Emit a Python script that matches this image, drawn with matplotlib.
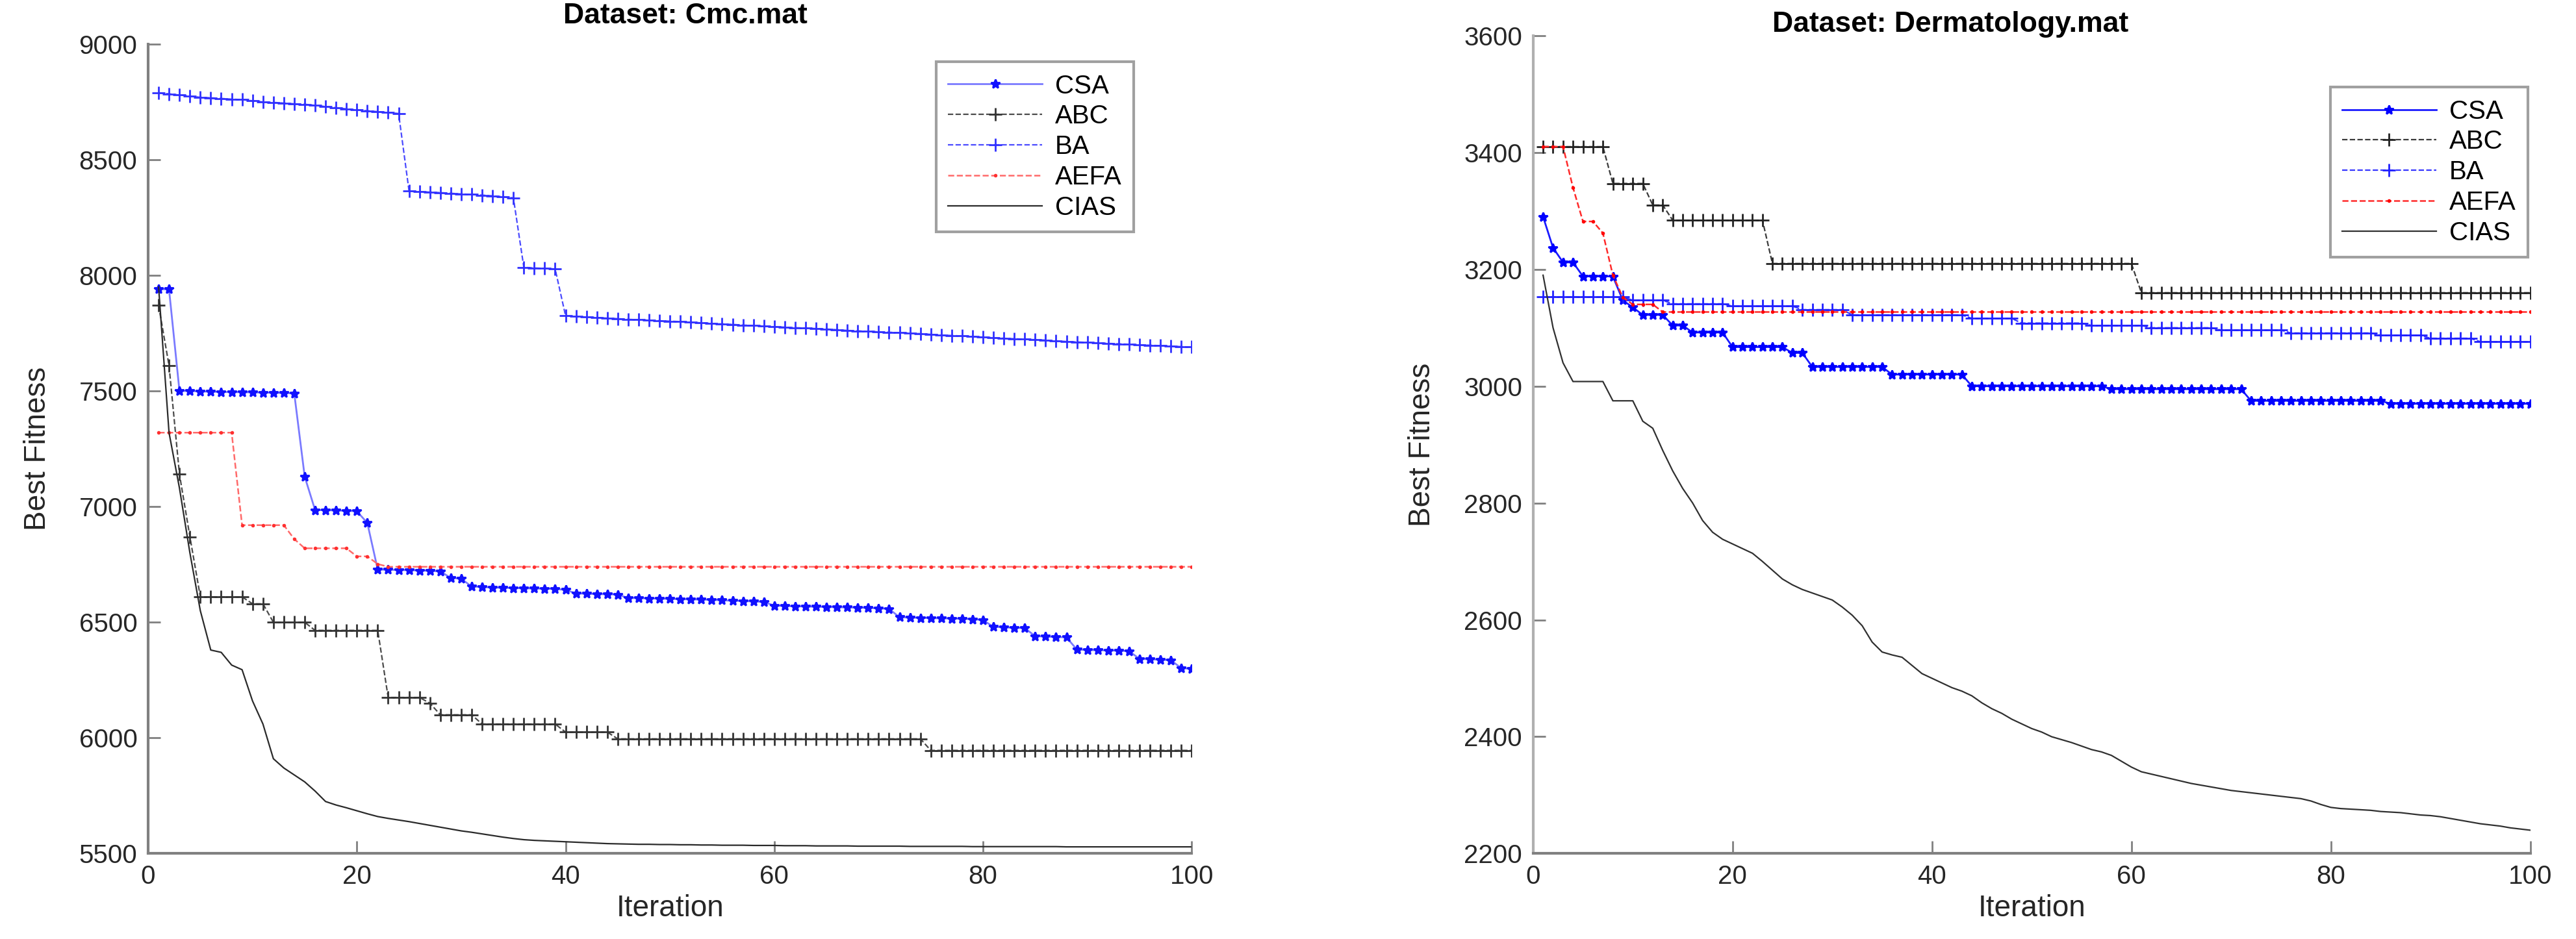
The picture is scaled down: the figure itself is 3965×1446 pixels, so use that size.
import matplotlib
matplotlib.use("Agg")
import matplotlib.pyplot as plt
import numpy as np

plt.rcParams["font.family"] = ["Liberation Sans Narrow", "Liberation Sans", "DejaVu Sans"]

iters = np.arange(1, 101)

# ---- Dataset: Cmc.mat ----------------------------------------------------
cmc_csa = [7940, 7940,
           7500, 7500, 7498, 7497, 7496, 7495, 7495, 7494, 7493, 7492, 7491, 7490,
           7130,
           6985, 6985, 6983, 6982, 6980,
           6930,
           6728, 6727, 6726, 6725, 6724, 6722, 6720,
           6692, 6688,
           6655, 6652, 6650, 6649, 6648, 6647, 6646, 6645, 6644, 6640,
           6625, 6623, 6622, 6621, 6620,
           6605, 6604, 6603, 6602, 6601, 6600, 6599, 6598, 6597, 6595, 6593, 6592, 6590, 6588,
           6572, 6570, 6569, 6568, 6567, 6566, 6565, 6564, 6563, 6562, 6560, 6558,
           6522, 6520, 6519, 6518, 6517, 6516, 6515, 6513, 6510,
           6480, 6478, 6476, 6475,
           6440, 6438, 6436, 6435,
           6382, 6380, 6379, 6378, 6377, 6375,
           6342, 6340, 6338, 6336,
           6302, 6298]
cmc_abc_levels = [7870, 7610, 7140, 6870, 6610, 6580, 6500, 6465, 6175, 6150, 6100, 6060, 6025, 5996, 5946]
cmc_abc_counts = [1, 1, 1, 1, 5, 2, 4, 7, 4, 1, 4, 8, 5, 30, 26]
cmc_ba = [8790, 8785, 8780, 8775, 8770, 8768, 8765, 8762, 8760, 8755, 8750, 8748,
          8745, 8742, 8740, 8735, 8730, 8725, 8720, 8715, 8712, 8708, 8704, 8700,
          8365, 8362, 8360, 8358, 8355, 8352, 8350, 8347, 8344, 8340, 8335,
          8035, 8032, 8030, 8028,
          7825, 7822, 7820, 7818, 7815, 7813, 7810, 7808, 7806, 7804,
          7802, 7800, 7797, 7795, 7792, 7790, 7788, 7785, 7783, 7780,
          7778, 7776, 7774, 7772, 7770, 7768, 7765, 7762, 7760, 7758,
          7756, 7754, 7752, 7750, 7748, 7745, 7742, 7740, 7738, 7735,
          7733, 7730, 7728, 7726, 7724, 7722, 7720, 7717, 7714, 7712,
          7710, 7708, 7706, 7704, 7702, 7700, 7698, 7696, 7694, 7692,
          7690]
cmc_aefa_levels = [7320, 6920, 6860, 6820, 6785, 6752, 6740]
cmc_aefa_counts = [8, 5, 1, 5, 2, 1, 78]
cmc_cias = [7950, 7320, 7080, 6800, 6550, 6380, 6370, 6315, 6295, 6160,
            6060, 5910, 5870, 5840, 5810, 5770, 5725, 5710, 5698, 5685,
            5672, 5660, 5652, 5645, 5638, 5630, 5622, 5614, 5606, 5598,
            5592, 5585, 5578, 5571, 5565, 5560, 5557, 5555, 5553, 5551,
            5549, 5547, 5545, 5543, 5542, 5541, 5540, 5540, 5539, 5539,
            5538, 5538, 5537, 5537, 5536, 5536, 5536, 5535, 5535, 5535,
            5534, 5534, 5534, 5533, 5533, 5533, 5533, 5532, 5532, 5532,
            5532, 5532, 5531, 5531, 5531, 5531, 5531, 5531, 5530, 5530,
            5530, 5530, 5530, 5530, 5530, 5530, 5530, 5529, 5529, 5529,
            5529, 5529, 5529, 5529, 5529, 5529, 5529, 5529, 5529, 5529]

# ---- Dataset: Dermatology.mat --------------------------------------------
derm_csa_levels = [3290, 3237, 3212, 3188, 3147, 3135, 3122, 3104, 3092, 3067,
                   3057, 3033, 3020, 3000, 2995, 2975, 2970]
derm_csa_counts = [1, 1, 2, 4, 1, 1, 3, 2, 4, 6, 2, 8, 8, 14, 14, 14, 15]
derm_abc_levels = [3410, 3347, 3310, 3284, 3210, 3160]
derm_abc_counts = [7, 4, 2, 10, 37, 40]
derm_ba_levels = [3153, 3147, 3141, 3137, 3131, 3122, 3116, 3108, 3104, 3100,
                  3096, 3091, 3087, 3082, 3076]
derm_ba_counts = [9, 4, 6, 7, 5, 12, 5, 7, 6, 7, 7, 9, 5, 5, 6]
derm_aefa_levels = [3410, 3340, 3282, 3262, 3190, 3152, 3140, 3127]
derm_aefa_counts = [3, 1, 2, 1, 1, 1, 3, 88]
derm_cias = [3190, 3100, 3040, 3008, 3008, 3008, 3008, 2975, 2975, 2975,
             2940, 2928, 2890, 2855, 2825, 2800, 2770, 2750, 2738, 2730,
             2722, 2714, 2700, 2685, 2670, 2660, 2652, 2646, 2640, 2634,
             2622, 2608, 2590, 2562, 2545, 2540, 2536, 2522, 2508, 2500,
             2492, 2484, 2478, 2470, 2458, 2448, 2440, 2430, 2422, 2414,
             2408, 2400, 2395, 2390, 2384, 2378, 2374, 2368, 2358, 2348,
             2340, 2336, 2332, 2328, 2324, 2320, 2317, 2314, 2311, 2308,
             2306, 2304, 2302, 2300, 2298, 2296, 2294, 2290, 2284, 2279,
             2277, 2276, 2275, 2274, 2272, 2271, 2270, 2268, 2266, 2265,
             2263, 2260, 2257, 2254, 2251, 2249, 2247, 2244, 2242, 2240]

cmc = {
    "CSA": np.array(cmc_csa),
    "ABC": np.repeat(cmc_abc_levels, cmc_abc_counts),
    "BA": np.array(cmc_ba),
    "AEFA": np.repeat(cmc_aefa_levels, cmc_aefa_counts),
    "CIAS": np.array(cmc_cias),
}
derm = {
    "CSA": np.repeat(derm_csa_levels, derm_csa_counts),
    "ABC": np.repeat(derm_abc_levels, derm_abc_counts),
    "BA": np.repeat(derm_ba_levels, derm_ba_counts),
    "AEFA": np.repeat(derm_aefa_levels, derm_aefa_counts),
    "CIAS": np.array(derm_cias),
}

# line colour, marker colour per panel (left one is rendered paler)
cmc_colors = {"CSA": ("#7a7aff", "#1010ff"), "ABC": ("#4a4a4a", "#333333"),
              "BA": ("#4a4aff", "#3030ff"), "AEFA": ("#ff6a6a", "#ff3030"),
              "CIAS": ("#2a2a2a", "#2a2a2a")}
derm_colors = {"CSA": ("#1a1aff", "#0000ff"), "ABC": ("#3a3a3a", "#222222"),
               "BA": ("#3535ff", "#2020ff"), "AEFA": ("#ff2a2a", "#ff0000"),
               "CIAS": ("#303030", "#303030")}

styles = {
    "CSA": dict(ls="-", marker="*", ms=10, lw=2.0),
    "ABC": dict(ls="--", marker="+", ms=15, lw=1.6),
    "BA": dict(ls="--", marker="+", ms=15, lw=1.6),
    "AEFA": dict(ls="--", marker=".", ms=4, lw=1.8),
    "CIAS": dict(ls="-", marker=None, ms=0, lw=1.6),
}

SPINE = "#808080"
TXT = "#262626"

fig = plt.figure(figsize=(39.66, 14.46), dpi=100)


def draw_panel(rect, data, colors, title, title_x, title_y, ylim, yticks, legend_corner, spine):
    ax = fig.add_axes(rect)
    for name, values in data.items():
        st = styles[name]
        lc, mc = colors[name]
        ax.plot(iters, values, label=name, color=lc, linestyle=st["ls"],
                marker=st["marker"], markersize=st["ms"], linewidth=st["lw"],
                markeredgecolor=mc, markerfacecolor=mc, markeredgewidth=2.0)
    ax.set_xlim(0, 100)
    ax.set_ylim(*ylim)
    ax.set_xticks(np.arange(0, 101, 20))
    ax.set_yticks(yticks)
    for side in ("top", "right"):
        ax.spines[side].set_visible(False)
    ax.spines["left"].set_color(spine)
    ax.spines["bottom"].set_color(SPINE)
    for side in ("left", "bottom"):
        ax.spines[side].set_linewidth(3)
    ax.tick_params(direction="in", length=14, width=2, color=SPINE,
                   labelsize=29, labelcolor=TXT, pad=12)
    ax.set_xlabel("Iteration", fontsize=33, color=TXT, labelpad=6)
    ax.set_ylabel("Best Fitness", fontsize=33, color=TXT, labelpad=30)
    fig.text(title_x, title_y, title, fontsize=32, fontweight="bold",
             ha="center", va="center")
    leg = ax.legend(loc="upper right", bbox_to_anchor=legend_corner,
                    bbox_transform=fig.transFigure, fontsize=29,
                    fancybox=False, framealpha=1, edgecolor="#a0a0a0",
                    handlelength=3.6, handletextpad=0.5, borderpad=0.45,
                    labelspacing=0.22, borderaxespad=0)
    leg.get_frame().set_linewidth(3)
    return ax


draw_panel([0.0575, 0.091, 0.405, 0.862], cmc, cmc_colors, "Dataset: Cmc.mat", 0.266, 0.983,
           (5500, 9000), np.arange(5500, 9001, 500), (0.440, 0.934), "#808080")
draw_panel([0.595, 0.091, 0.387, 0.871], derm, derm_colors, "Dataset: Dermatology.mat", 0.757, 0.974,
           (2200, 3600), np.arange(2200, 3601, 200), (0.981, 0.907), "#b0b0b0")

fig.savefig("out.png", dpi=100)
